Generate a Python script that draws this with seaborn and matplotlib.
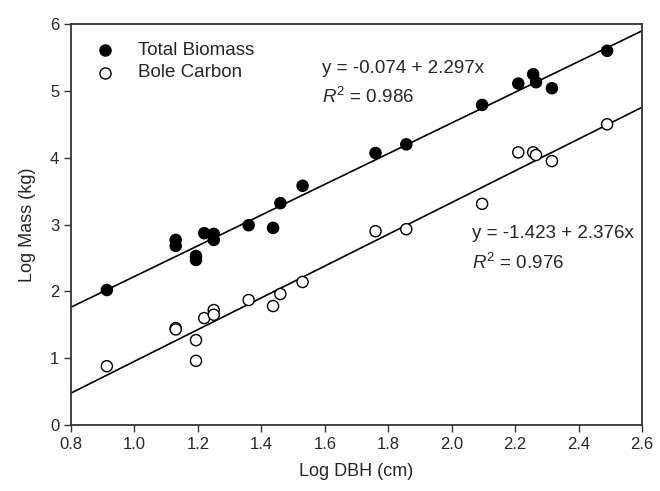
import numpy as np
import pandas as pd
import matplotlib
matplotlib.use('Agg')
import matplotlib.pyplot as plt
import seaborn as sns

# values
log_dbh = [0.913, 1.13, 1.13, 1.194, 1.194, 1.22, 1.25, 1.25, 1.36, 1.437,
           1.46, 1.53, 1.76, 1.857, 2.096, 2.21, 2.257, 2.266, 2.316, 2.49]
total_biomass = [2.02, 2.77, 2.68, 2.53, 2.47, 2.87, 2.86, 2.77, 2.99, 2.95,
                 3.32, 3.58, 4.07, 4.20, 4.79, 5.11, 5.25, 5.13, 5.04, 5.60]
bole_carbon = [0.88, 1.45, 1.43, 1.27, 0.96, 1.60, 1.72, 1.65, 1.87, 1.78,
               1.96, 2.14, 2.90, 2.93, 3.31, 4.08, 4.08, 4.04, 3.95, 4.50]

series_names = ['Total Biomass', 'Bole Carbon']
intercepts = [-0.074, -1.423]
slopes = [2.297, 2.376]
r_squared = [0.986, 0.976]

x_ticks = [0.8, 1.0, 1.2, 1.4, 1.6, 1.8, 2.0, 2.2, 2.4, 2.6]
y_ticks = [0, 1, 2, 3, 4, 5, 6]

sns.set_style('ticks')
plt.rcParams['font.family'] = ['Liberation Sans', 'DejaVu Sans']
plt.rcParams['mathtext.fontset'] = 'custom'
plt.rcParams['mathtext.rm'] = 'Liberation Sans'
plt.rcParams['mathtext.it'] = 'Liberation Sans:italic'

df = pd.DataFrame({
    'x': log_dbh * 2,
    'y': total_biomass + bole_carbon,
    'group': [series_names[0]] * len(log_dbh) + [series_names[1]] * len(log_dbh),
})

fig = plt.figure(figsize=(6.6, 4.91), dpi=100)
ax = fig.add_axes([0.1076, 0.1344, 0.8651, 0.8166])

# fitted lines across the whole x range
xs = np.array([x_ticks[0], x_ticks[-1]])
for b0, b1 in zip(intercepts, slopes):
    sns.lineplot(x=xs, y=b0 + b1 * xs, color='black', lw=1.2, ax=ax, zorder=2)

sns.scatterplot(data=df, x='x', y='y', hue='group',
                palette={series_names[0]: 'black', series_names[1]: 'white'},
                edgecolor='black', linewidth=1.0, s=64, ax=ax, zorder=3,
                legend=False)
ax.collections[-1].set_edgecolor('black')

# legend
ax.scatter([], [], s=64, c='black', edgecolors='black', label=series_names[0])
ax.scatter([], [], s=64, c='white', edgecolors='black', linewidths=1.0,
           label=series_names[1])
ax.legend(loc='upper left', frameon=False, fontsize=13.5, handletextpad=0.8,
          borderaxespad=0.0, labelspacing=0.3, bbox_to_anchor=(0.013, 0.975))

fs = 13.5
ax.text(1.591, 5.34, f'y = {intercepts[0]:.3f} + {slopes[0]:.3f}x', fontsize=fs,
        va='center')
ax.text(1.591, 4.91, f'$R^2$ = {r_squared[0]:.3f}', fontsize=fs, va='center')
ax.text(2.064, 2.87, f'y = {intercepts[1]:.3f} + {slopes[1]:.3f}x', fontsize=fs,
        va='center')
ax.text(2.064, 2.43, f'$R^2$ = {r_squared[1]:.3f}', fontsize=fs, va='center')

ax.set_xlim(0.8, 2.6)
ax.set_ylim(0, 6)
ax.set_xticks(x_ticks)
ax.set_xticklabels([f'{t:.1f}' for t in x_ticks])
ax.set_yticks(y_ticks)
ax.tick_params(labelsize=12, direction='out', length=5, width=1, color='#333333')
ax.set_xlabel('Log DBH (cm)', fontsize=13, labelpad=8)
ax.set_ylabel('Log Mass (kg)', fontsize=13, labelpad=10)
for sp in ax.spines.values():
    sp.set_visible(True)
    sp.set_linewidth(1.3)
    sp.set_color('#333333')

plt.savefig('out.png', dpi=100)
